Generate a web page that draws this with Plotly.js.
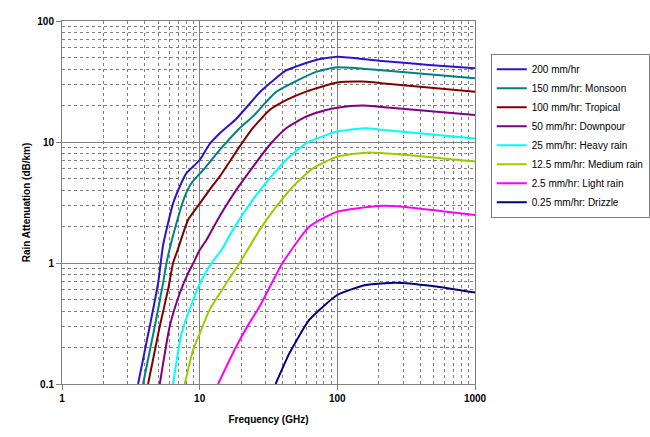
<!DOCTYPE html>
<html>
<head>
<meta charset="utf-8">
<script src="https://cdn.plot.ly/plotly-3.0.1.min.js"></script>
<style>html,body{margin:0;padding:0;background:#fff;}#chart{width:650px;height:437px;}</style>
</head>
<body>
<div id="chart"></div>
<script>
// Series names
const seriesNames = [
  "200 mm/hr",
  "150 mm/hr: Monsoon",
  "100 mm/hr: Tropical",
  "50 mm/hr: Downpour",
  "25 mm/hr: Heavy rain",
  "12.5 mm/hr: Medium rain",
  "2.5 mm/hr: Light rain",
  "0.25 mm/hr: Drizzle"
];

// Frequency (GHz) / attenuation (dB/km) for each rain rate
const freq200 = [3.57, 4.34, 4.99, 5.42, 6.41, 7.16, 8.0, 10, 11.8, 14, 18.4, 28, 42.5, 70, 100, 200, 464, 1000];
const att200  = [0.1, 0.30, 0.68, 1.4, 3.11, 4.27, 5.5, 7.1, 9.6, 11.8, 15.5, 26.5, 39, 47.6, 50.7, 47, 43.3, 40.6];

const freq150 = [3.88, 4.72, 5.42, 5.74, 6.78, 7.79, 8.7, 10.6, 14, 19.5, 24.3, 36, 70, 100, 200, 1000];
const att150  = [0.1, 0.30, 0.68, 1.0, 2.13, 3.53, 4.56, 5.87, 8.6, 13.0, 16.2, 26.0, 38, 41.4, 39.4, 33.6];

const freq100 = [4.22, 5.13, 5.89, 6.41, 6.92, 8.23, 10, 12.5, 14, 19.5, 24.3, 32.2, 42.5, 59.3, 100, 150, 200, 1000];
const att100  = [0.1, 0.30, 0.60, 1.0, 1.28, 2.27, 3.1, 4.4, 5.2, 9.15, 13.0, 18.4, 22.2, 26.1, 31.0, 31.6, 30.8, 26];

const freq50 = [5.13, 6.06, 7.16, 8.23, 9.0, 10, 11.2, 14, 18.4, 24.3, 32.2, 42.5, 59.3, 82.8, 100, 151, 200, 1000];
const att50  = [0.1, 0.30, 0.56, 0.82, 1.0, 1.28, 1.55, 2.45, 4.0, 6.2, 9.44, 13.0, 16.2, 18.4, 19.2, 20, 19.6, 16.7];

const freq25 = [6.41, 7.37, 8.94, 10.3, 12.2, 14.4, 17.4, 24.3, 32.2, 42.5, 59.3, 82.8, 100, 161, 200, 1000];
const att25  = [0.1, 0.26, 0.49, 0.72, 1.0, 1.28, 1.87, 3.32, 5.01, 7.1, 9.76, 11.4, 12.2, 13.0, 12.7, 10.7];

const freq12 = [7.79, 8.94, 10, 11.8, 15.6, 19.5, 27.2, 36, 47.5, 66.3, 100, 170, 1000];
const att12  = [0.1, 0.19, 0.26, 0.41, 0.68, 1.0, 1.87, 2.92, 4.27, 6.06, 7.57, 8.2, 6.9];

const freq2 = [13.6, 18.4, 23, 27.2, 40, 62.7, 100, 200, 296, 1000];
const att2  = [0.1, 0.203, 0.32, 0.435, 1.0, 2.0, 2.66, 2.96, 2.92, 2.49];

const freq025 = [35.6, 44.9, 62.7, 100, 161, 266, 490, 1000];
const att025  = [0.1, 0.18, 0.34, 0.544, 0.658, 0.687, 0.645, 0.569];

// Tick labels
const xTickVals = [1, 10, 100, 1000];
const xTickText = ["1", "10", "100", "1000"];
const yTickVals = [0.1, 1, 10, 100];
const yTickText = ["0.1", "1", "10", "100"];

const colors = ["#3311cc", "#008080", "#800000", "#800080", "#00ffff", "#99cc00", "#ff00ff", "#000080"];

const xs = [freq200, freq150, freq100, freq50, freq25, freq12, freq2, freq025];
const ys = [att200, att150, att100, att50, att25, att12, att2, att025];

const traces = seriesNames.map((name, i) => ({
  type: "scatter",
  mode: "lines",
  name: name,
  x: xs[i],
  y: ys[i],
  line: {color: colors[i], width: 2, shape: "spline", smoothing: 0.5},
  cliponaxis: true
}));

const gridCol = "#808080";
const fam = "Liberation Sans, Arial, sans-serif";
const tickFont = {family: fam, size: 10, color: "#000", weight: "bold"};

const layout = {
  width: 650,
  height: 437,
  margin: {l: 62, r: 175, t: 21, b: 53, autoexpand: false},
  paper_bgcolor: "#fff",
  plot_bgcolor: "#fff",
  font: {family: fam, size: 10, color: "#000"},
  showlegend: true,
  legend: {
    xref: "container", yref: "container",
    x: 0.755, y: 0.877, xanchor: "left", yanchor: "top",
    bordercolor: "#808080", borderwidth: 1, bgcolor: "#fff",
    font: {family: fam, size: 10, color: "#000"},
    tracegroupgap: 0
  },
  xaxis: {
    type: "log",
    range: [0, 3],
    tickmode: "array",
    tickvals: xTickVals,
    ticktext: xTickText,
    ticks: "outside",
    ticklen: 5,
    tickcolor: gridCol,
    tickfont: tickFont,
    showgrid: true,
    gridcolor: gridCol,
    gridwidth: 1,
    showline: true,
    linecolor: gridCol,
    linewidth: 1,
    mirror: true,
    zeroline: false,
    automargin: false,
    minor: {dtick: "D1", showgrid: true, gridcolor: gridCol, griddash: "dot", gridwidth: 1, ticks: ""},
    title: {text: "Frequency (GHz)", font: {family: fam, size: 10, weight: "bold", color: "#000"}, standoff: 12}
  },
  yaxis: {
    type: "log",
    range: [-1, 2],
    tickmode: "array",
    tickvals: yTickVals,
    ticktext: yTickText,
    ticks: "outside",
    ticklen: 5,
    tickcolor: gridCol,
    tickfont: tickFont,
    showgrid: true,
    gridcolor: gridCol,
    gridwidth: 1,
    showline: true,
    linecolor: gridCol,
    linewidth: 1,
    mirror: true,
    zeroline: false,
    automargin: false,
    minor: {dtick: "D1", showgrid: true, gridcolor: gridCol, griddash: "dot", gridwidth: 1, ticks: ""},
    title: {text: "Rain Attenuation (dB/km)", font: {family: fam, size: 10, weight: "bold", color: "#000"}, standoff: 4}
  }
};

Plotly.newPlot("chart", traces, layout, {displayModeBar: false, staticPlot: true});
</script>
</body>
</html>
